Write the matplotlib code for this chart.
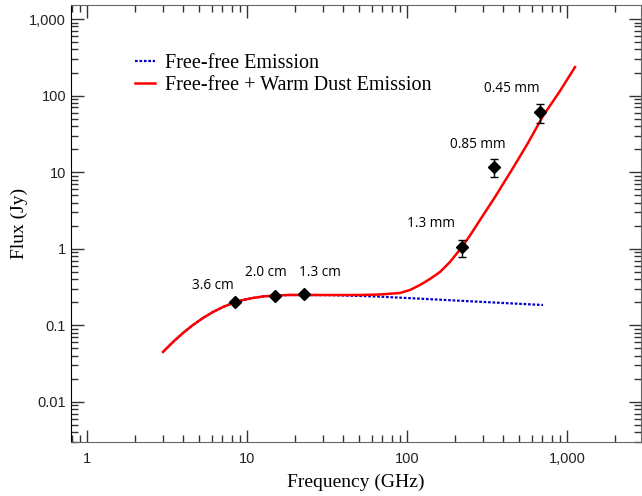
import numpy as np
import matplotlib
matplotlib.use('Agg')
from matplotlib import pyplot as plt
from matplotlib.ticker import FixedLocator, LogLocator, NullFormatter

# measured fluxes
freq = [8.4, 15, 22.7, 221, 350, 677]
flux = [0.20, 0.242, 0.255, 1.05, 11.7, 61]
err_lo = [0, 0, 0, 0.28, 3.05, 17]
err_hi = [0, 0, 0, 0.25, 3.2, 16.6]
labels = ['3.6 cm', '2.0 cm', '1.3 cm', '1.3 mm', '0.85 mm', '0.45 mm']
label_off = [(-22, 17), (-9, 23), (16, 22), (-31, 24), (-16, 22), (-28, 24)]

# model curves
ff_nu = [2.985, 3.448, 3.981, 4.597, 5.309, 6.131, 7.079, 8.175, 9.441, 10.9,
         12.59, 14.96, 18.57, 33.0, 50.8, 67.8, 90.4, 149.6, 247.6, 409.7, 707.9]
ff_s = [0.0450, 0.0607, 0.0796, 0.1012, 0.1250, 0.1496, 0.1738, 0.1960, 0.2146,
        0.2280, 0.2384, 0.2456, 0.2493, 0.248, 0.242, 0.237, 0.230, 0.218,
        0.2065, 0.1954, 0.1845]
tot_nu = [2.985, 3.448, 3.981, 4.597, 5.309, 6.131, 7.079, 8.175, 9.441, 10.9,
          12.59, 14.96, 18.57, 33.0, 50.8, 67.8, 90.4, 104.4, 120.5, 139.2,
          160.7, 185.6, 220.6, 247.6, 285.9, 354.8, 459.6, 570.2, 707.9, 903.6, 1122]
tot_s = [0.0450, 0.0607, 0.0796, 0.1012, 0.1250, 0.1496, 0.1738, 0.1960, 0.2146,
         0.2280, 0.2384, 0.2456, 0.2493, 0.2493, 0.2493, 0.2531, 0.2648, 0.2897,
         0.3366, 0.4033, 0.4979, 0.6728, 1.055, 1.493, 2.378, 4.74, 11.36, 24.06,
         54.2, 114.8, 236]

xticks = [1, 10, 100, 1000]
xticklabels = ['1', '10', '100', '1,000']
yticks = [0.01, 0.1, 1, 10, 100, 1000]
yticklabels = ['0.01', '0.1', '1', '10', '100', '1,000']

fig = plt.figure(figsize=(6.42, 4.96), dpi=100)
ax = fig.add_axes([71/642, 1-442/496, 570/642, 437/496])

ax.plot(ff_nu, ff_s, ls=(0, (1.2, 0.8)), color='#0000cc', lw=1.6, label='Free-free Emission')
ax.plot(tot_nu, tot_s, color='#ff0000', lw=1.8, label='Free-free + Warm Dust Emission')
ax.errorbar(freq, flux, yerr=[err_lo, err_hi], fmt='D', color='black', ms=6,
            ecolor='black', elinewidth=1, capsize=3, capthick=1, zorder=5)

for f, s, t, (dx, dy) in zip(freq, flux, labels, label_off):
    ax.annotate(t, (f, s), xytext=(dx, dy), textcoords='offset pixels',
                ha='center', va='center', fontsize=9.8, family='Open Sans')

ax.set_xscale('log')
ax.set_yscale('log')
ax.set_xlim(0.794, 2900)
ax.set_ylim(0.0030, 1524)

ax.xaxis.set_major_locator(FixedLocator(xticks))
ax.set_xticklabels(xticklabels)
ax.yaxis.set_major_locator(FixedLocator(yticks))
ax.set_yticklabels(yticklabels)
ax.xaxis.set_minor_locator(LogLocator(base=10, subs=np.arange(2, 10)))
ax.yaxis.set_minor_locator(LogLocator(base=10, subs=np.arange(2, 10)))
ax.xaxis.set_minor_formatter(NullFormatter())
ax.yaxis.set_minor_formatter(NullFormatter())

ax.tick_params(which='both', direction='in', top=True, right=True, color='#333333')
ax.tick_params(which='major', length=9, width=1)
ax.tick_params(which='minor', length=5, width=1)
ax.tick_params(labelsize=10.5, labelcolor='#222222')
for lab in ax.get_xticklabels() + ax.get_yticklabels():
    lab.set_family('Liberation Sans')
ax.tick_params(axis='x', pad=7)

for side in ['top', 'bottom', 'right']:
    ax.spines[side].set_color('#666666')
ax.spines['left'].set_color('black')

ax.set_xlabel('Frequency (GHz)', family='Liberation Serif', fontsize=14, labelpad=6)
ax.set_ylabel('Flux (Jy)', family='Liberation Serif', fontsize=14, labelpad=1)

ax.legend(loc='upper left', bbox_to_anchor=(0.095, 0.911), frameon=False,
          prop={'family': 'Liberation Serif', 'size': 14.5},
          handlelength=1.0, handletextpad=0.5, labelspacing=0.15, borderpad=0)

fig.savefig('out.png', dpi=100)
